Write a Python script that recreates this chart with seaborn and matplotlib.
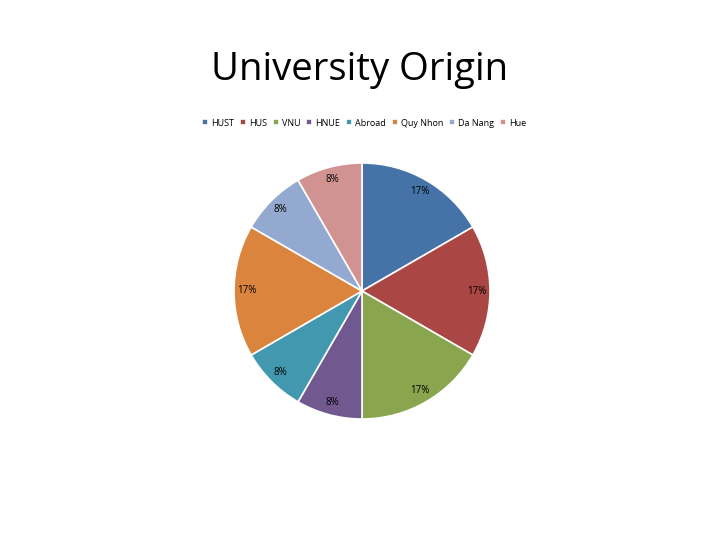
import matplotlib
matplotlib.use('Agg')
import matplotlib.pyplot as plt
import seaborn as sns

# data (2 of 12 -> 17%, 1 of 12 -> 8%)
universities = ['HUST', 'HUS', 'VNU', 'HNUE', 'Abroad', 'Quy Nhon', 'Da Nang', 'Hue']
counts = [2, 2, 2, 1, 1, 2, 1, 1]
colors = ['#4572A7', '#AA4643', '#89A54E', '#71588F', '#4198AF', '#DB843D', '#93A9CF', '#D19392']

sns.set_theme(style='white')
plt.rcParams['font.family'] = ['Open Sans', 'DejaVu Sans']
plt.rcParams['text.color'] = 'black'

fig = plt.figure(figsize=(7.2, 5.4), dpi=100)
fig.patch.set_facecolor('white')

# pie area: center ~(362,291) px, radius ~128 px
cx, cy, r = 362, 291, 128
ax = fig.add_axes([(cx - r) / 720, (540 - cy - r) / 540, 2 * r / 720, 2 * r / 540])

wedges, texts, autotexts = ax.pie(
    counts, colors=colors, startangle=90, counterclock=False,
    autopct='%1.0f%%', pctdistance=0.9,
    wedgeprops=dict(edgecolor='white', linewidth=1.2),
    textprops=dict(fontsize=7, color='black'),
)
ax.set_xlim(-1, 1)
ax.set_ylim(-1, 1)
ax.set_aspect('equal')
ax.axis('off')

fig.text(0.5, 1 - 70 / 540, 'University Origin', ha='center', va='center',
         fontsize=27.5, color='black')

fig.legend(wedges, universities, loc='center', bbox_to_anchor=(364 / 720, 1 - 123 / 540),
           ncol=8, frameon=False, fontsize=6.5, handlelength=0.65, handleheight=0.65,
           handletextpad=0.35, columnspacing=0.65, labelcolor='black')

fig.savefig('out.png', dpi=100)
